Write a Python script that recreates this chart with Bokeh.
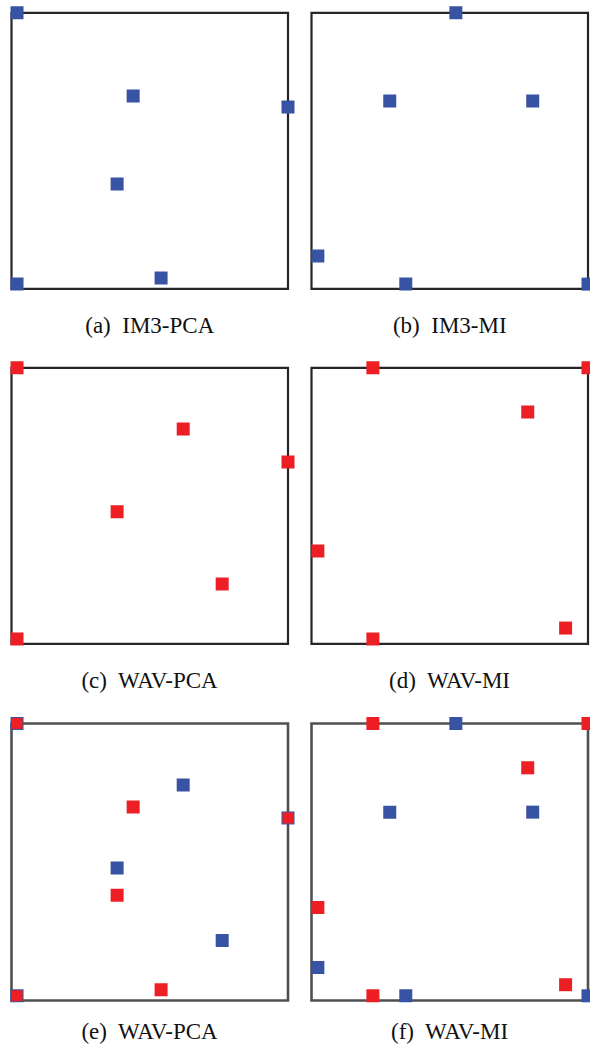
from bokeh.plotting import figure
from bokeh.layouts import column, row
from bokeh.models import Range1d
from bokeh.core.properties import value
from bokeh.embed import file_html
from bokeh.resources import INLINE

# Selected-point positions inside the unit square, one pair of lists per method
im3_pca_x = [0.020, 0.440, 1.000, 0.382, 0.541, 0.020]
im3_pca_y = [1.000, 0.699, 0.659, 0.380, 0.039, 0.017]

im3_mi_x = [0.522, 0.283, 0.800, 0.023, 0.341, 1.000]
im3_mi_y = [1.000, 0.680, 0.680, 0.119, 0.017, 0.017]

wav_pca_x = [0.020, 0.621, 1.000, 0.382, 0.762, 0.020]
wav_pca_y = [1.000, 0.778, 0.659, 0.478, 0.217, 0.017]

wav_mi_x = [0.222, 1.000, 0.782, 0.023, 0.919, 0.222]
wav_mi_y = [1.000, 1.000, 0.840, 0.336, 0.057, 0.017]

tags = ["(a)", "(b)", "(c)", "(d)", "(e)", "(f)"]
names = ["IM3-PCA", "IM3-MI", "WAV-PCA", "WAV-MI", "WAV-PCA", "WAV-MI"]

BLUE = "#3953a4"
RED = "#ed1f24"
MARKER = 13

COL_W = [300, 290]
ROW_H = [355, 355, 334]
BOX_LEFT = 11.0
BOX_W = 276.5
ROW_BOX_TOP = [12.3, 12.3, 13.0]
ROW_BOX_H = [276.0, 276.0, 277.0]
ROW_CAPTION = [324.5, 324.5, 320.5]
ROW_FRAME = [("#262626", 2.2), ("#262626", 2.2), ("#505050", 2.6)]


def panel(col, rw, layers, caption):
    w, h = COL_W[col], ROW_H[rw]
    top, bh = ROW_BOX_TOP[rw], ROW_BOX_H[rw]
    x_range = Range1d(-BOX_LEFT / BOX_W, (w - BOX_LEFT) / BOX_W)
    y_range = Range1d((top + bh - h) / bh, (top + bh) / bh)
    p = figure(width=w, height=h, x_range=x_range, y_range=y_range,
               x_axis_type=None, y_axis_type=None, toolbar_location=None,
               output_backend="svg", min_border=0, title=None)
    p.outline_line_color = None
    p.background_fill_color = "white"
    p.border_fill_color = "white"

    color, lw = ROW_FRAME[rw]
    p.quad(left=[0], right=[1], bottom=[0], top=[1], fill_color=None,
           line_color=color, line_width=lw, line_join="miter")

    drawn = set()
    for xs, ys, c in layers:
        # a point sitting on one already drawn is shrunk so the one below shows as a rim
        sizes = [MARKER - 2 if (x, y) in drawn else MARKER for x, y in zip(xs, ys)]
        p.scatter(xs, ys, marker="square", size=sizes, fill_color=c,
                  line_color=None)
        drawn.update(zip(xs, ys))

    cap_y = (top + bh - ROW_CAPTION[rw]) / bh
    p.text(x=[0.5], y=[cap_y], text=[caption], text_align="center",
           text_baseline="alphabetic", text_font=value("Liberation Serif"),
           text_font_size="23px", text_color="#111111")
    return p


def cap(i):
    return tags[i] + "\u00a0 " + names[i]


pa = panel(0, 0, [(im3_pca_x, im3_pca_y, BLUE)], cap(0))
pb = panel(1, 0, [(im3_mi_x, im3_mi_y, BLUE)], cap(1))
pc = panel(0, 1, [(wav_pca_x, wav_pca_y, RED)], cap(2))
pd = panel(1, 1, [(wav_mi_x, wav_mi_y, RED)], cap(3))
pe = panel(0, 2, [(wav_pca_x, wav_pca_y, BLUE), (im3_pca_x, im3_pca_y, RED)], cap(4))
pf = panel(1, 2, [(im3_mi_x, im3_mi_y, BLUE), (wav_mi_x, wav_mi_y, RED)], cap(5))

layout = column(row(pa, pb), row(pc, pd), row(pe, pf))

open("out.html", "w").write(file_html(layout, INLINE))
